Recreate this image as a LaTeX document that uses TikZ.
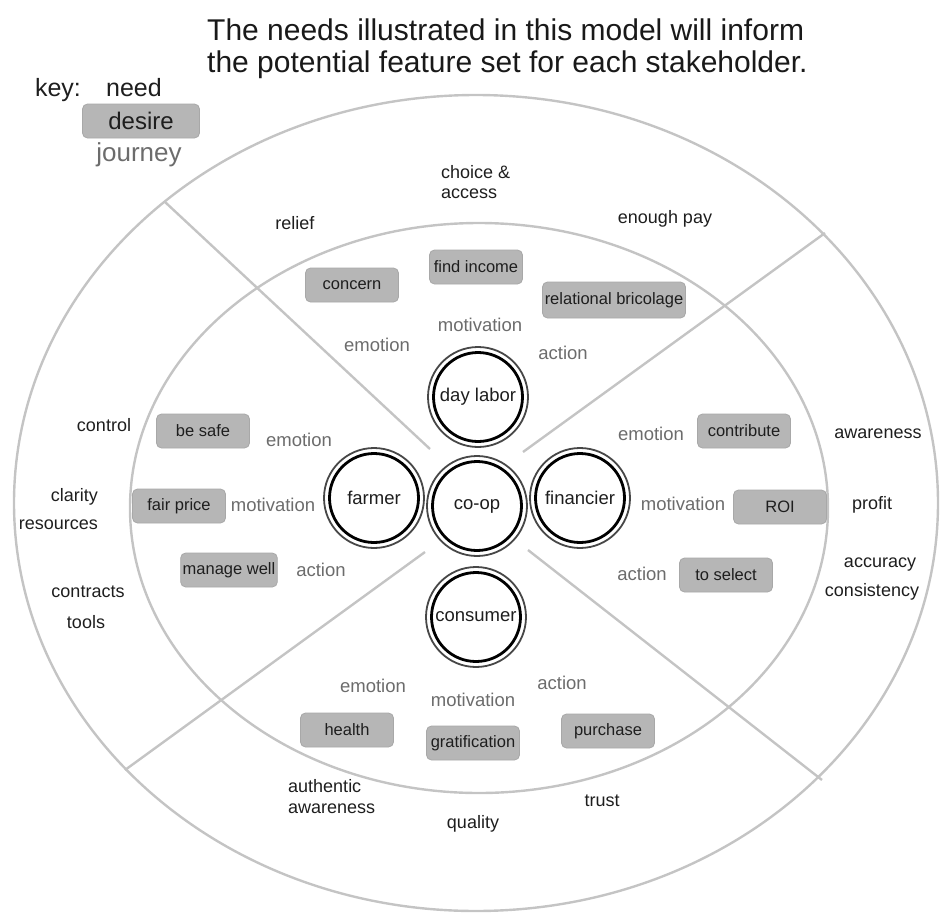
\documentclass[tikz,border=0pt]{standalone}
\usepackage{fontspec}
\setmainfont{Liberation Sans}
\definecolor{linegray}{RGB}{196,196,196}
\definecolor{boxgray}{RGB}{182,182,182}
\definecolor{boxedge}{RGB}{168,168,168}
\definecolor{jgray}{RGB}{108,108,108}
\definecolor{ntext}{RGB}{30,30,30}
\begin{document}
\begin{tikzpicture}[x=1pt,y=-1pt,
  need/.style={text=ntext, font=\fontsize{18}{21}\selectfont, inner sep=0pt},
  journey/.style={text=jgray, font=\fontsize{18.5}{21}\selectfont, inner sep=0pt},
  desire/.style={fill=boxgray, draw=boxedge, line width=0.8pt, rounded corners=5pt,
    minimum width=93pt, minimum height=34pt, inner sep=2pt, text=ntext,
    font=\fontsize{16.5}{19}\selectfont},
  actor/.style={circle, draw=black, line width=2.8pt, minimum size=89pt, inner sep=0pt,
    font=\fontsize{18.5}{21}\selectfont, text=ntext},
  ring/.style={draw=black!72, line width=1.8pt},
  divider/.style={draw=linegray, line width=2.4pt}]
\useasboundingbox (0,0) rectangle (940,916);

% ellipses
\coordinate (oc) at (476,503);
\coordinate (ic) at (479,508);
\draw[divider] (oc) ellipse [x radius=462pt, y radius=408pt];
\draw[divider] (ic) ellipse [x radius=349pt, y radius=285pt];

% dividers
\coordinate (d1a) at (165,202); \coordinate (d1b) at (430,449);
\coordinate (d2a) at (825,233); \coordinate (d2b) at (523,452);
\coordinate (d3a) at (125,770); \coordinate (d3b) at (425,552);
\coordinate (d4a) at (822,780); \coordinate (d4b) at (528,550);
\draw[divider] (d1a) -- (d1b);
\draw[divider] (d2a) -- (d2b);
\draw[divider] (d3a) -- (d3b);
\draw[divider] (d4a) -- (d4b);

% title
\node[anchor=base west, inner sep=0pt, text=black!90,
  font=\fontsize{30}{32}\selectfont] (title1) at (207,40)
  {The needs illustrated in this model will inform};
\node[anchor=base west, inner sep=0pt, text=black!90,
  font=\fontsize{30}{32}\selectfont] (title2) at (207,72)
  {the potential feature set for each stakeholder.};

% key
\node[anchor=base, text=ntext, font=\fontsize{25}{28}\selectfont, inner sep=0pt] (keylbl) at (58,96) {key:};
\node[anchor=base, text=ntext, font=\fontsize{25}{28}\selectfont, inner sep=0pt] (keyneed) at (134,96) {need};
\node[desire, minimum width=117pt, font=\fontsize{24}{26}\selectfont] (keydesire) at (141,121) {desire};
\node[text=jgray, font=\fontsize{26}{28}\selectfont, inner sep=0pt] (keyjourney) at (139,155) {journey};

% outer needs
\node[need] (relief) at (295,223) {relief};
\node[need, anchor=west] (choice1) at (441,172) {choice \&};
\node[need, anchor=west] (choice2) at (441,194) {access};
\node[need] (enough) at (665,219) {enough pay};
\node[need] (control) at (104,425) {control};
\node[need, anchor=east] (clarity) at (98,497) {clarity};
\node[need, anchor=east] (resources) at (98,525) {resources};
\node[need] (contracts) at (88,592) {contracts};
\node[need] (tools) at (86,622) {tools};
\node[need] (awareR) at (878,434) {awareness};
\node[need] (profit) at (872,505) {profit};
\node[need] (accuracy) at (880,565) {accuracy};
\node[need] (consist) at (872,592) {consistency};
\node[need, anchor=west] (authentic) at (288,786) {authentic};
\node[need, anchor=west] (awareB) at (288,809) {awareness};
\node[need] (quality) at (473,824) {quality};
\node[need] (trust) at (602,801) {trust};

% journey labels
\node[journey] (temo) at (377,345) {emotion};
\node[journey] (tmot) at (480,325) {motivation};
\node[journey] (tact) at (563,353) {action};
\node[journey] (lemo) at (299,440) {emotion};
\node[journey] (lmot) at (273,505) {motivation};
\node[journey] (lact) at (321,570) {action};
\node[journey] (remo) at (651,434) {emotion};
\node[journey] (rmot) at (683,504) {motivation};
\node[journey] (ract) at (642,574) {action};
\node[journey] (bemo) at (373,686) {emotion};
\node[journey] (bmot) at (473,700) {motivation};
\node[journey] (bact) at (562,683) {action};

% desires
\node[desire] (concern) at (352,285) {concern};
\node[desire] (findinc) at (476,267) {find income};
\node[desire, minimum width=143pt, minimum height=36pt] (relbric) at (614,300) {relational bricolage};
\node[desire] (besafe) at (203,431) {be safe};
\node[desire] (fairprice) at (179,506) {fair price};
\node[desire] (manage) at (229,570) {manage well};
\node[desire] (contrib) at (744,431) {contribute};
\node[desire] (roi) at (780,507) {ROI};
\node[desire] (toselect) at (726,575) {to select};
\node[desire] (health) at (347,730) {health};
\node[desire] (gratif) at (473,743) {gratification};
\node[desire] (purchase) at (608,731) {purchase};

% actors
\node[actor] (daylabor) at (478,397) {day labor};
\node[actor] (farmer) at (374,498) {farmer};
\node[actor] (coop) at (477,506) {co-op};
\node[actor] (financier) at (580,498) {financier};
\node[actor] (consumer) at (476,617) {consumer};
\foreach \n in {daylabor,farmer,coop,financier,consumer}
  \draw[ring] (\n.center) circle[radius=50pt];
\end{tikzpicture}
\end{document}
